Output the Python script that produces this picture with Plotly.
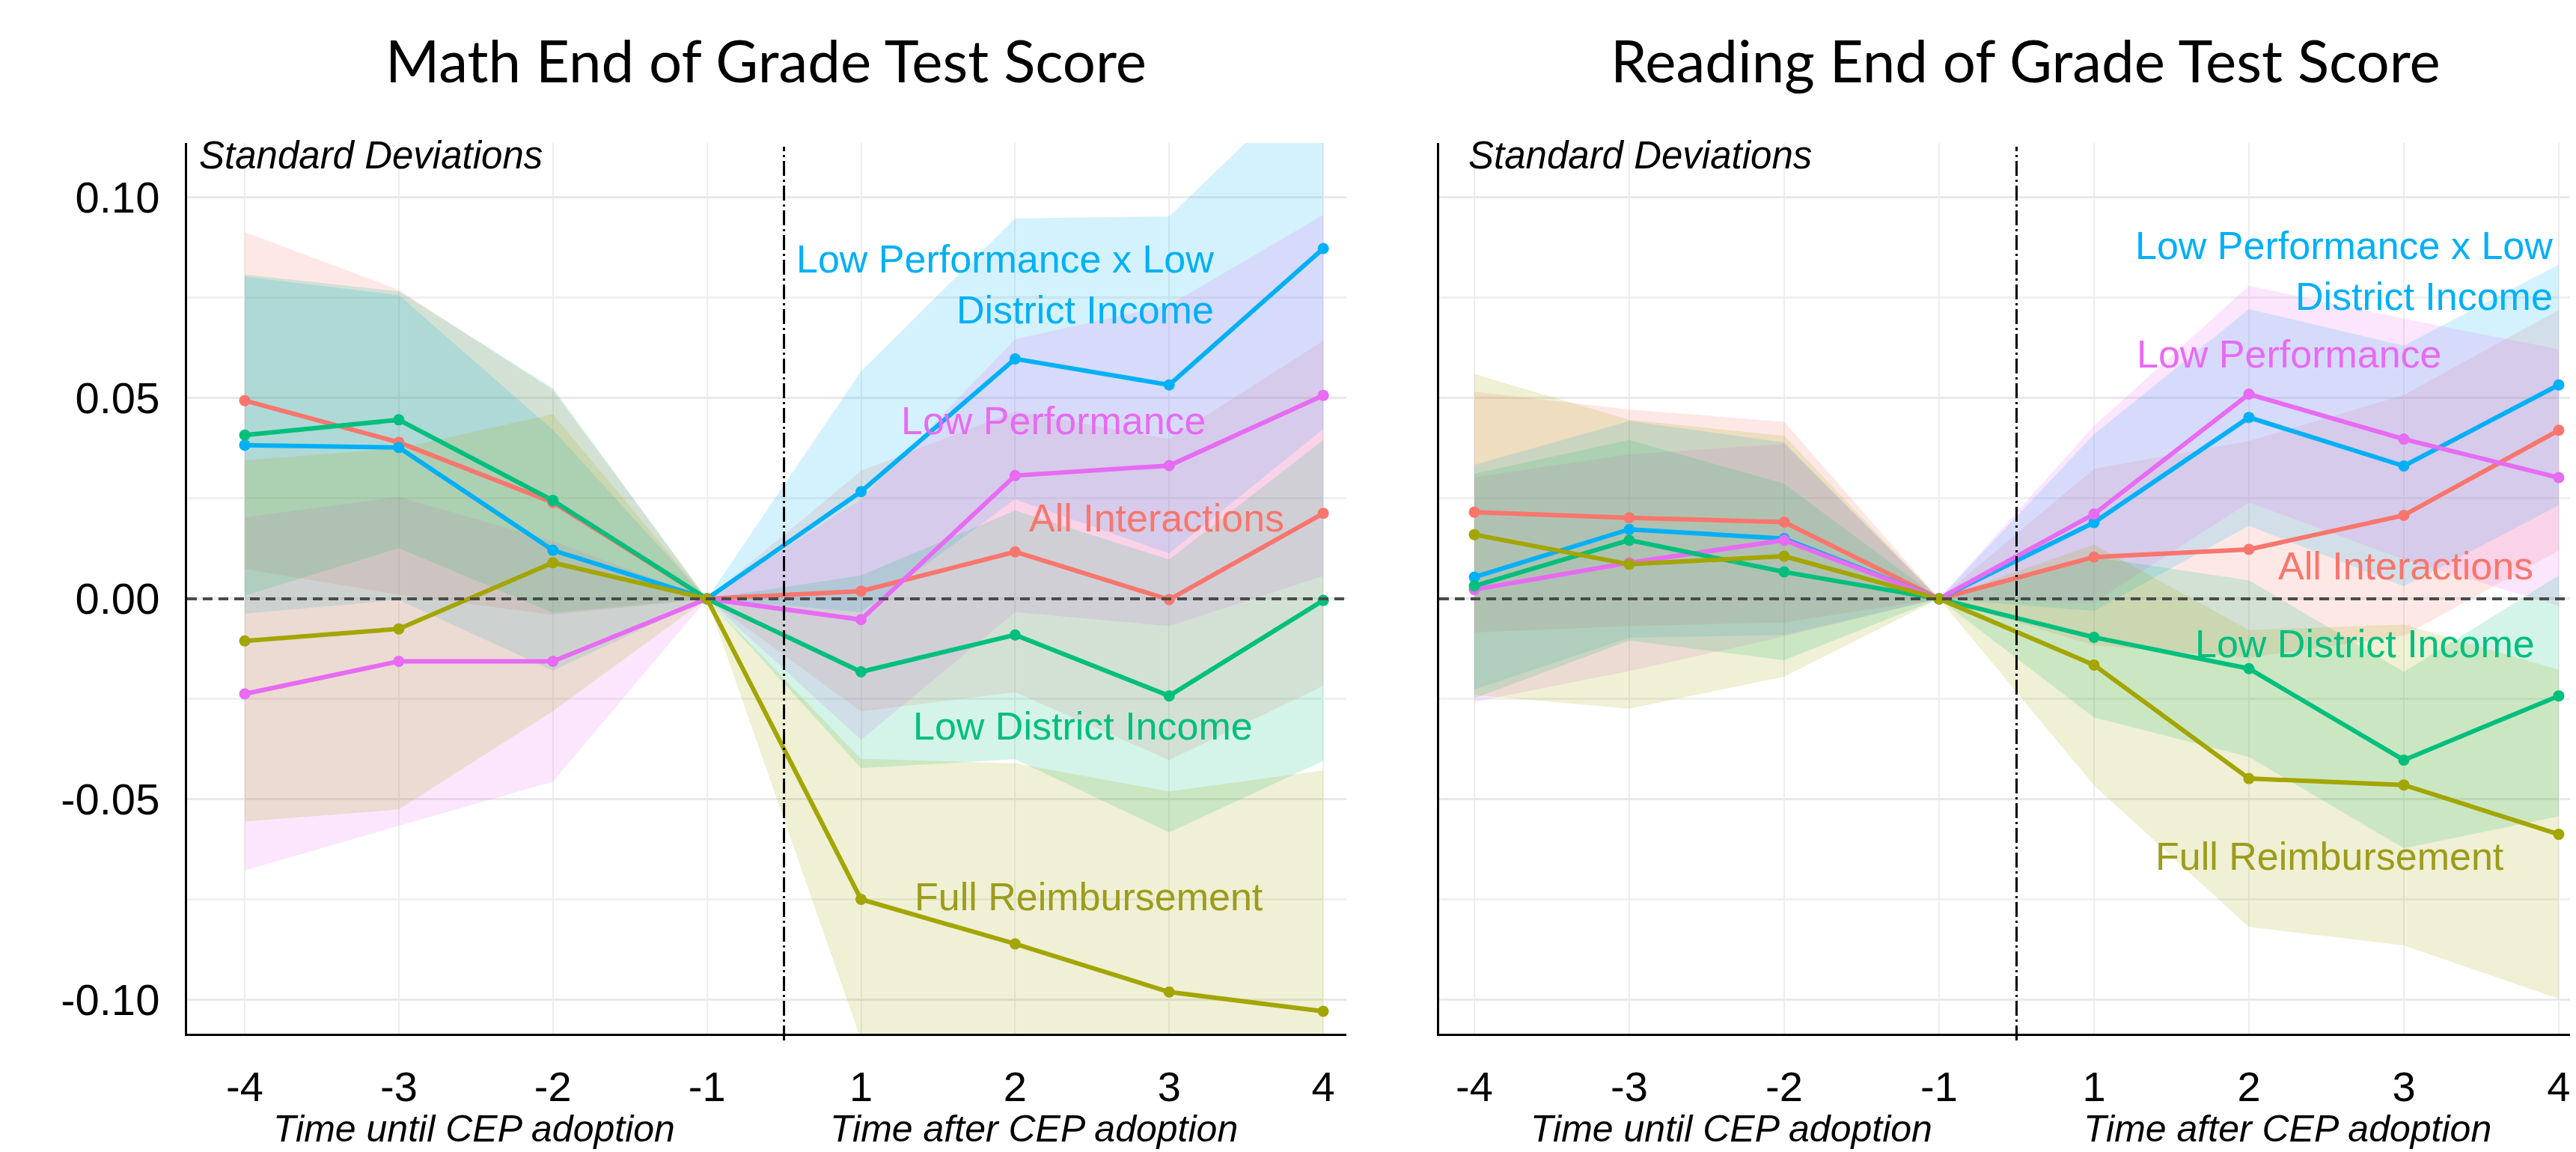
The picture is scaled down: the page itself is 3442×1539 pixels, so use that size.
import plotly.graph_objects as go

# ---------------- data ----------------
periods = ["-4", "-3", "-2", "-1", "1", "2", "3", "4"]
series_names = ["All Interactions", "Low Performance x Low District Income",
                "Low Performance", "Low District Income", "Full Reimbursement"]
series_colors = ["#F8766D", "#00B0F6", "#E76BF3", "#00BF7D", "#A3A500"]

# Math estimates
math_all = [0.0494, 0.039, 0.024, 0.0, 0.0019, 0.0117, -0.0002, 0.0213]
math_lpxldi = [0.0383, 0.0377, 0.0121, 0.0, 0.0267, 0.0598, 0.0533, 0.0873]
math_lp = [-0.0237, -0.0156, -0.0156, 0.0, -0.0052, 0.0307, 0.0332, 0.0507]
math_ldi = [0.0408, 0.0446, 0.0245, 0.0, -0.0182, -0.009, -0.0242, -0.0004]
math_fr = [-0.0105, -0.0075, 0.009, 0.0, -0.0749, -0.086, -0.098, -0.1028]

# Math confidence half-widths
math_all_hw = [0.042, 0.038, 0.028, 0.0, 0.030, 0.035, 0.040, 0.043]
math_lpxldi_hw = [0.042, 0.038, 0.030, 0.0, 0.030, 0.035, 0.042, 0.045]
math_lp_hw = [0.044, 0.041, 0.030, 0.0, 0.030, 0.034, 0.040, 0.045]
math_ldi_hw = [0.040, 0.032, 0.028, 0.0, 0.024, 0.031, 0.034, 0.040]
math_fr_hw = [0.045, 0.045, 0.037, 0.0, 0.035, 0.045, 0.050, 0.060]

# Reading estimates
read_all = [0.0216, 0.0202, 0.0191, 0.0, 0.0104, 0.0123, 0.0208, 0.042]
read_lpxldi = [0.0054, 0.0173, 0.015, 0.0, 0.019, 0.0452, 0.0331, 0.0533]
read_lp = [0.0023, 0.009, 0.0146, 0.0, 0.0211, 0.051, 0.0398, 0.0302]
read_ldi = [0.0032, 0.0146, 0.0067, 0.0, -0.0096, -0.0174, -0.0402, -0.0242]
read_fr = [0.016, 0.0086, 0.0106, 0.0, -0.0165, -0.0448, -0.0464, -0.0587]

# Reading confidence half-widths
read_all_hw = [0.030, 0.027, 0.025, 0.0, 0.022, 0.027, 0.030, 0.030]
read_lpxldi_hw = [0.028, 0.027, 0.024, 0.0, 0.022, 0.027, 0.030, 0.030]
read_lp_hw = [0.028, 0.027, 0.024, 0.0, 0.022, 0.027, 0.030, 0.032]
read_ldi_hw = [0.028, 0.025, 0.022, 0.0, 0.020, 0.022, 0.022, 0.030]
read_fr_hw = [0.040, 0.036, 0.030, 0.0, 0.030, 0.037, 0.040, 0.041]

y_tickvals = [-0.10, -0.05, 0.0, 0.05, 0.10]
y_ticktext = ["-0.10", "-0.05", "0.00", "0.05", "0.10"]

panel_titles = ["Math End of Grade Test Score", "Reading End of Grade Test Score"]

math_vals = [math_all, math_lpxldi, math_lp, math_ldi, math_fr]
math_hws = [math_all_hw, math_lpxldi_hw, math_lp_hw, math_ldi_hw, math_fr_hw]
read_vals = [read_all, read_lpxldi, read_lp, read_ldi, read_fr]
read_hws = [read_all_hw, read_lpxldi_hw, read_lp_hw, read_ldi_hw, read_fr_hw]

# ---------------- figure ----------------
W, H = 3442, 1539
FONT = "Liberation Sans, Arial, sans-serif"


def rgba(hexc, a):
    h = hexc.lstrip("#")
    r, g, b = int(h[0:2], 16), int(h[2:4], 16), int(h[4:6], 16)
    return f"rgba({r},{g},{b},{a})"


fig = go.Figure()

for vals, hws, xa, ya in [(math_vals, math_hws, "x", "y"), (read_vals, read_hws, "x2", "y2")]:
    # confidence bands
    for v, hw, col in zip(vals, hws, series_colors):
        up = [a + b for a, b in zip(v, hw)]
        lo = [a - b for a, b in zip(v, hw)]
        fig.add_trace(go.Scatter(
            x=periods + periods[::-1], y=up + lo[::-1], fill="toself",
            fillcolor=rgba(col, 0.17), line=dict(width=0), mode="lines",
            hoverinfo="skip", showlegend=False, xaxis=xa, yaxis=ya))
    # estimate lines
    for v, col, name in zip(vals, series_colors, series_names):
        fig.add_trace(go.Scatter(
            x=periods, y=v, mode="lines+markers", name=name,
            line=dict(color=col, width=6), marker=dict(color=col, size=15),
            showlegend=False, xaxis=xa, yaxis=ya))

xrange_left = [-0.374, 7.15]
xrange_right = [-0.227, 7.15]
yrange = [-0.1084, 0.1136]

dom_y = [1 - 1373 / H, 1 - 183 / H]
dom_x1 = [242 / W, 1791 / W]
dom_x2 = [1915 / W, 1.0]

common_x = dict(type="category", showgrid=True, gridcolor="#EDEDED", gridwidth=2,
                showline=True, linecolor="black", linewidth=3, ticks="",
                tickfont=dict(family=FONT, size=56, color="black"),
                ticklabelstandoff=20, zeroline=False)
common_y = dict(range=yrange, showgrid=True, gridcolor="#E9E9E9", gridwidth=3,
                showline=True, linecolor="black", linewidth=3, ticks="",
                zeroline=False, tickmode="array", tickvals=y_tickvals,
                minor=dict(tickmode="linear", tick0=0.025, dtick=0.05,
                           showgrid=True, gridcolor="#F0F0F0", gridwidth=3))

fig.update_layout(
    width=W, height=H, margin=dict(l=0, r=0, t=0, b=0),
    paper_bgcolor="white", plot_bgcolor="white", showlegend=False,
    xaxis=dict(domain=dom_x1, range=xrange_left, anchor="y", **common_x),
    xaxis2=dict(domain=dom_x2, range=xrange_right, anchor="y2", **common_x),
    yaxis=dict(domain=dom_y, anchor="x", ticktext=y_ticktext,
               tickfont=dict(family=FONT, size=58, color="black"),
               ticklabelstandoff=22, **common_y),
    yaxis2=dict(domain=dom_y, anchor="x2", showticklabels=False, **common_y),
)

shapes = []
for xa, ya in [("x", "y"), ("x2", "y2")]:
    # horizontal zero dashed line
    shapes.append(dict(type="line", xref=f"{xa} domain", yref=ya, x0=0, x1=1, y0=0, y1=0,
                       line=dict(color="#4a4a4a", width=4, dash="13px,8px"), layer="above"))
    # vertical adoption line between -1 and 1
    shapes.append(dict(type="line", xref=xa, yref="paper", x0=3.5, x1=3.5,
                       y0=1 - 1382 / H, y1=1 - 188 / H,
                       line=dict(color="black", width=3, dash="20px,5px,3px,5px"), layer="above"))
fig.update_layout(shapes=shapes)

ann = []
LF = 52
label_specs = [
    # (xref, yref, x, y, text, color, xanchor, align)
    ("x", "y", 6.30, 0.0784, "Low Performance x Low<br>District Income", series_colors[1], "right", "right"),
    ("x", "y", 5.25, 0.0444, "Low Performance", series_colors[2], "center", "center"),
    ("x", "y", 5.92, 0.0202, "All Interactions", series_colors[0], "center", "center"),
    ("x", "y", 5.44, -0.0318, "Low District Income", series_colors[3], "center", "center"),
    ("x", "y", 5.48, -0.0743, "Full Reimbursement", "#9C9C1C", "center", "center"),
    ("x2", "y2", 6.97, 0.0817, "Low Performance x Low<br>District Income", series_colors[1], "right", "right"),
    ("x2", "y2", 5.26, 0.0610, "Low Performance", series_colors[2], "center", "center"),
    ("x2", "y2", 6.01, 0.0082, "All Interactions", series_colors[0], "center", "center"),
    ("x2", "y2", 5.75, -0.0112, "Low District Income", series_colors[3], "center", "center"),
    ("x2", "y2", 5.52, -0.0642, "Full Reimbursement", "#9C9C1C", "center", "center"),
]
for xr, yr, x, y, t, c, xan, al in label_specs:
    ann.append(dict(xref=xr, yref=yr, x=x, y=y, text=t, showarrow=False,
                    xanchor=xan, yanchor="middle", align=al,
                    font=dict(family=FONT, size=LF, color=c)))

# "Standard Deviations" captions
for xp in [256 / W, 1952 / W]:
    ann.append(dict(xref="paper", yref="paper", x=xp, y=1 - 199 / H, text="<i>Standard Deviations</i>",
                    showarrow=False, xanchor="left", yanchor="middle",
                    font=dict(family=FONT, size=51, color="black")))

# x-axis sub titles
for xr, x, t in [("x", 1.49, "Time until CEP adoption"), ("x", 5.12, "Time after CEP adoption"),
                 ("x2", 1.66, "Time until CEP adoption"), ("x2", 5.25, "Time after CEP adoption")]:
    ann.append(dict(xref=xr, yref="paper", x=x, y=10 / H, text=f"<i>{t}</i>",
                    showarrow=False, xanchor="center", yanchor="bottom", borderpad=0,
                    font=dict(family=FONT, size=50, color="black")))

# panel titles
for xp, t in [(1015 / W, panel_titles[0]), (2698 / W, panel_titles[1])]:
    ann.append(dict(xref="paper", yref="paper", x=xp, y=1 - 72 / H, text=t,
                    showarrow=False, xanchor="center", yanchor="middle",
                    font=dict(family="Lato, Carlito, sans-serif", size=78, color="black")))

fig.update_layout(annotations=ann)

fig.write_html("out.html")
